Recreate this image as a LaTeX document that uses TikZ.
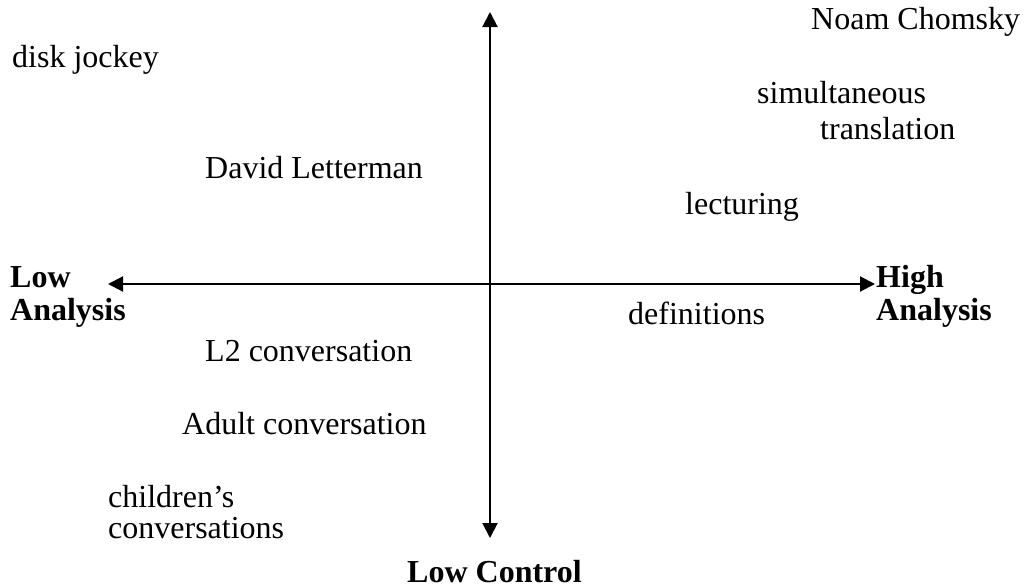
\documentclass[tikz,border=0pt]{standalone}
\usepackage{fontspec}
\setmainfont{Liberation Serif}
\usepackage{tikz}
\usetikzlibrary{arrows.meta, positioning}

\begin{document}
\begin{tikzpicture}[
    x=1pt, y=-1pt,
    lbl/.style={anchor=base west, inner sep=0, font=\fontsize{32}{31}\selectfont, align=left},
    axlbl/.style={anchor=base west, inner sep=0, font=\fontsize{32}{33}\selectfont\bfseries, align=left},
    axis/.style={line width=2pt, {Triangle[length=15pt, width=15pt]}-{Triangle[length=15pt, width=15pt]}}
]
\useasboundingbox (0,0) rectangle (1026,587);
% axis ends
\coordinate (top) at (490,12);
\coordinate (bot) at (490,538);
\coordinate (lft) at (108,284);
\coordinate (rgt) at (875,284);
\draw[axis] (top) -- (bot);
\draw[axis] (lft) -- (rgt);
% axis labels (base = last line)
\node[axlbl] (lowan)  at (10,320)  {Low\\Analysis};
\node[axlbl] (highan) at (876,320) {High\\Analysis};
\node[axlbl] (lowco)  at (407,582) {Low Control};
% activities
\foreach \n/\x/\y/\t in {chomsky/811/29/{Noam Chomsky}, dj/12/67/{disk jockey},
    simul/757/103/{simultaneous}, transl/820/139/{translation},
    letterman/205/178/{David Letterman}, lect/685/214/{lecturing},
    defs/628/324/{definitions}, ltwo/205/361/{L2 conversation},
    adult/182/434/{Adult conversation}} {
  \node[lbl] (\n) at (\x,\y) {\t};
}
\node[lbl] (child) at (108,538) {children’s\\conversations};
\end{tikzpicture}
\end{document}
